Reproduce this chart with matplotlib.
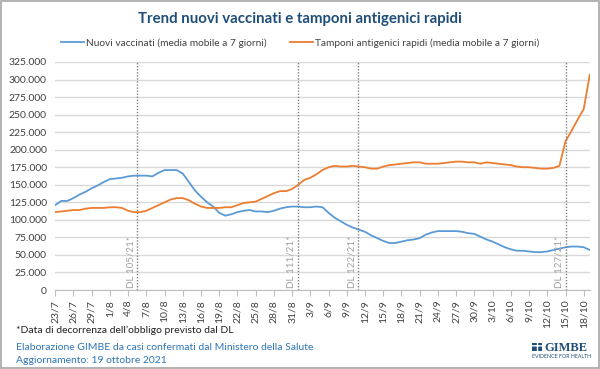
import numpy as np
import pandas as pd
import matplotlib
matplotlib.use("Agg")
import matplotlib.pyplot as plt
from matplotlib.patches import Rectangle

plt.rcParams['font.family'] = ['Lato', 'DejaVu Sans']

# giorni dal 23/7 al 19/10/2021
dates = pd.date_range('2021-07-23', '2021-10-19', freq='D')

vaccinati = [121, 127, 127, 131, 136, 140, 145, 149, 154, 158,
             159, 160, 162, 163, 163, 163, 162, 167, 171, 171,
             171, 166, 154, 142, 133, 125, 119, 110, 106, 108,
             111, 113, 114, 112, 112, 111, 113, 116, 118, 119,
             119, 118, 118, 119, 118, 110, 103, 98, 93, 89,
             86, 83, 78, 74, 70, 67, 67, 69, 71, 72,
             74, 79, 82, 84, 84, 84, 84, 83, 81, 80,
             76, 72, 69, 65, 61, 58, 56, 56, 55, 54,
             54, 55, 57, 59, 61, 62, 62, 61, 57]

tamponi = [111, 112, 113, 114, 114, 116, 117, 117, 117, 118,
           118, 117, 113, 111, 111, 113, 117, 121, 125, 129,
           131, 131, 128, 123, 119, 117, 117, 117, 118, 118,
           121, 124, 125, 126, 130, 134, 138, 141, 141, 144,
           150, 157, 160, 165, 171, 175, 177, 176, 176, 177,
           176, 175, 173, 173, 176, 178, 179, 180, 181, 182,
           182, 180, 180, 180, 181, 182, 183, 183, 182, 182,
           180, 182, 181, 180, 179, 178, 176, 175, 175, 174,
           173, 173, 174, 177, 212, 227, 243, 258, 307]

vaccinati = np.array(vaccinati) * 1000
tamponi = np.array(tamponi) * 1000

dl_labels = ['DL 105/21*', 'DL 111/21*', 'DL 122/21*', 'DL 127/21*']
dl_pos = [13.5, 39.9, 49.9, 84.0]

x = np.arange(len(dates))

fig = plt.figure(figsize=(6, 3.69), dpi=100)
ax = fig.add_axes([0.092, 0.214, 0.891, 0.618])

ax.plot(x, vaccinati, color='#5B9BD5', lw=1.3, label='Nuovi vaccinati (media mobile a 7 giorni)')
ax.plot(x, tamponi, color='#ED7D31', lw=1.3, label='Tamponi antigenici rapidi (media mobile a 7 giorni)')

for p, lab in zip(dl_pos, dl_labels):
    ax.axvline(p, color='#808080', lw=1, ls=(0, (1, 1.2)), zorder=3)
    ax.text(p - 1.1, 3000, lab, rotation=90, ha='center', va='bottom',
            fontsize=7, color='#A0A0A0')

ax.set_xlim(0, len(dates) - 1)
ax.set_ylim(0, 325000)
ax.set_yticks(np.arange(0, 325001, 25000))
ax.set_yticklabels(['0'] + ['{:,}'.format(v).replace(',', '.') for v in range(25000, 325001, 25000)])
ax.yaxis.grid(True, color='#D9D9D9', lw=1)
ax.set_axisbelow(True)

tick_idx = x[::3]
ax.set_xticks(tick_idx)
ax.set_xticklabels(['%d/%d' % (dates[i].day, dates[i].month) for i in tick_idx], rotation=90)

ax.tick_params(axis='y', length=0, labelsize=7.5, colors='#404040', pad=6)
ax.tick_params(axis='x', length=4, width=0.8, color='#BFBFBF', labelsize=7.5, labelcolor='#404040', pad=3)
for s in ['top', 'right', 'left']:
    ax.spines[s].set_visible(False)
ax.spines['bottom'].set_color('#BFBFBF')

fig.text(0.5, 0.948, 'Trend nuovi vaccinati e tamponi antigenici rapidi', ha='center', va='center',
         fontsize=10.8, fontweight='bold', color='#1F4E79')
fig.legend(loc='center', bbox_to_anchor=(0.5, 0.883), ncol=2, frameon=False, fontsize=7.3,
           handlelength=2.3, handletextpad=0.2, columnspacing=2.3, labelcolor='#404040')

fig.text(0.027, 0.105, '*Data di decorrenza dell\u2019obbligo previsto dal DL', fontsize=7.5, color='#202020', va='center')
fig.text(0.027, 0.057, 'Elaborazione GIMBE da casi confermati dal Ministero della Salute', fontsize=7.5,
         color='#2E75B6', va='center')
fig.text(0.027, 0.022, 'Aggiornamento: 19 ottobre 2021', fontsize=7.5, color='#2E75B6', va='center')

# logo GIMBE
fig.patches.append(Rectangle((0.887, 0.049), 0.017, 0.022, transform=fig.transFigure,
                             facecolor='#1F4E79', edgecolor='white', lw=0, hatch='++'))
fig.text(0.908, 0.049, 'GIMBE', fontsize=9, fontweight='bold', family='Liberation Serif',
         color='#1F4E79', va='baseline', ha='left')
fig.text(0.887, 0.033, 'EVIDENCE FOR HEALTH', fontsize=3.8, color='#1F4E79', va='center', ha='left')

fig.patches.append(Rectangle((0.002, 0.003), 0.996, 0.994, transform=fig.transFigure,
                             fill=False, edgecolor='#A6A6A6', lw=1.2))

fig.savefig('out.png', dpi=100)
